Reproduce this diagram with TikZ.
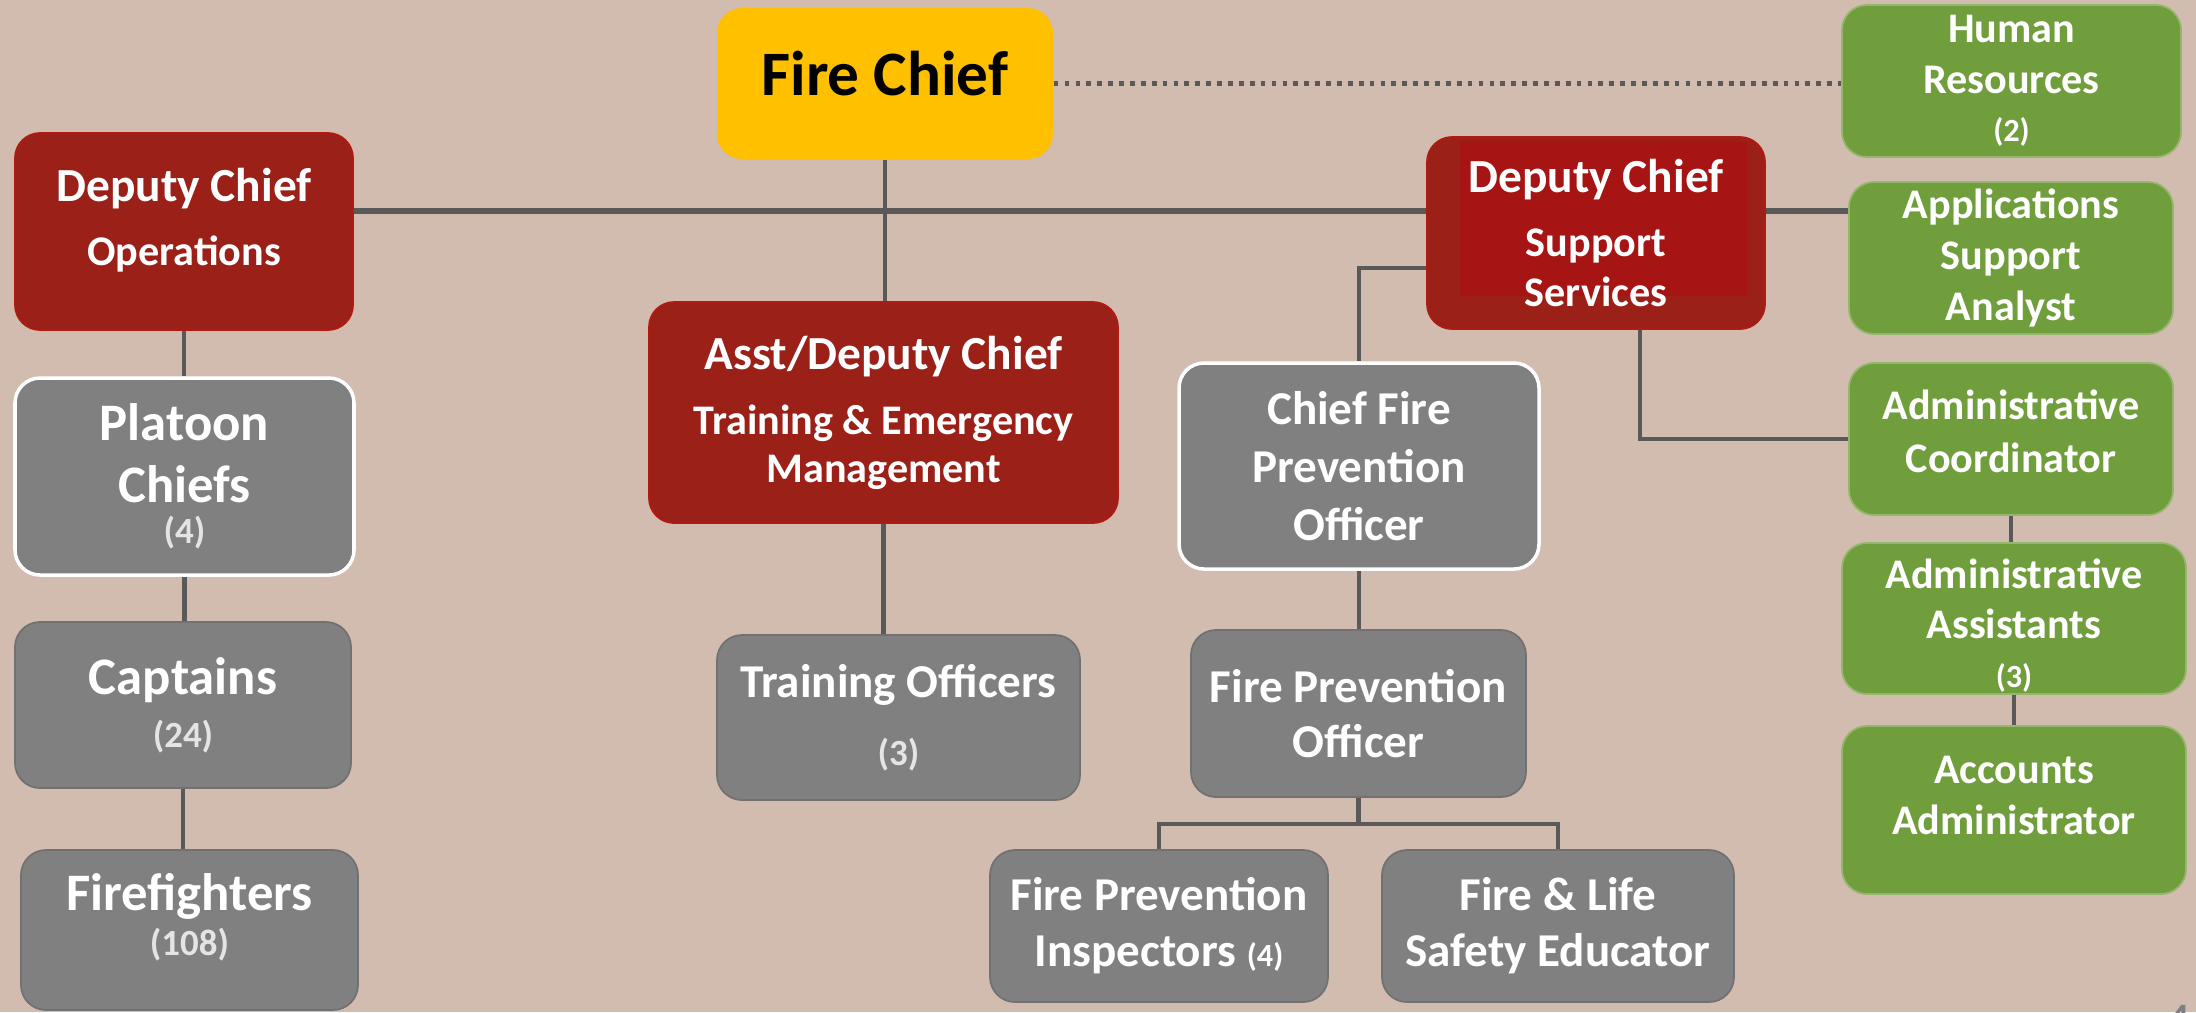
\documentclass[tikz,border=0pt]{standalone}
\usepackage{fontspec}
\setmainfont{Carlito}

\definecolor{bgtan}{RGB}{210,187,175}
\definecolor{chiefyellow}{RGB}{255,192,0}
\definecolor{deepred}{RGB}{155,32,24}
\definecolor{innerred}{RGB}{166,20,20}
\definecolor{boxgrey}{RGB}{128,128,128}
\definecolor{leafgreen}{RGB}{112,158,60}
\definecolor{linegrey}{RGB}{89,89,89}
\definecolor{numgrey}{RGB}{228,228,228}

% text sizes used inside the boxes
\newcommand{\hd}[1]{{\fontsize{13.5}{13.5}\selectfont #1}}
\newcommand{\cnt}[1]{{\fontsize{10.5}{10.5}\selectfont\color{numgrey}#1}}
\newcommand{\cntsm}[1]{{\fontsize{9.2}{9.2}\selectfont #1}}
% invisible struts to push a text up or down in its box
\newcommand{\lift}[1]{\rule[-#1]{0pt}{0pt}}
\newcommand{\drop}[1]{\rule{0pt}{#1}}

\tikzset{
  dims/.style 2 args={minimum width=#1cm, minimum height=#2cm},
  unit/.style={rounded corners=0.25cm, inner sep=0pt, align=center, text=white},
  chief/.style={unit, fill=chiefyellow, text=black, font=\fontsize{18}{22}\selectfont\bfseries},
  redunit/.style={unit, fill=deepred, draw=deepred!80!red, line width=0.5pt},
  greyunit/.style={unit, fill=boxgrey, draw=boxgrey!88!black, line width=0.5pt},
  greenunit/.style={unit, fill=leafgreen, draw=leafgreen!75!white, line width=0.5pt},
  ringed/.style={draw=white, line width=1pt},
  link/.style={draw=linegrey, line width=1.15pt},
  mainline/.style={draw=linegrey, line width=1.45pt},
  dotlink/.style={draw=linegrey, line width=1.35pt, dash pattern=on 1.35pt off 1.75pt}
}

\begin{document}
\begin{tikzpicture}
        % background
        \useasboundingbox (0,0) rectangle (21.96,-10.12);
        \fill[bgtan] (0,0) rectangle (21.96,-10.12);

        % the top
        \node[chief, dims={3.36}{1.51}] (fchief) at (8.85,-0.835) {Fire Chief\lift{5.7pt}};
        \node[greenunit, dims={3.39}{1.52}, font=\fontsize{12}{14.5}\selectfont\bfseries]
              (hr) at (20.115,-0.81) {Human\\Resources\\[-0.8pt]\cntsm{(2)}};

        % the deputy chiefs
        \node[redunit, dims={3.38}{1.97}, font=\fontsize{12}{18.2}\selectfont\bfseries]
              (dcops) at (1.84,-2.315) {\hd{Deputy Chief}\\Operations\lift{8.6pt}};
        \node[redunit, dims={3.38}{1.92}, font=\fontsize{12}{14.2}\selectfont\bfseries,
              path picture={\fill[innerred, sharp corners]
                ([xshift=0.33cm,yshift=-0.04cm]path picture bounding box.north west) rectangle
                ([xshift=-0.18cm,yshift=0.33cm]path picture bounding box.south east);}]
              (dcsup) at (15.96,-2.33) {\hd{Deputy Chief}\\[4pt]Support\\Services};
        \node[redunit, dims={4.69}{2.21}, font=\fontsize{12}{13.7}\selectfont\bfseries]
              (asst) at (8.835,-4.125) {\hd{Asst/Deputy Chief}\\[4.8pt]Training \& Emergency\\Management};

        % operations
        \node[greyunit, ringed, dims={3.39}{1.97}, font=\fontsize{15}{17.6}\selectfont\bfseries]
              (platoon) at (1.845,-4.765) {Platoon\\Chiefs\\[-5.9pt]\cnt{(4)}};
        \node[greyunit, dims={3.36}{1.66}, font=\fontsize{15}{15}\selectfont\bfseries]
              (capt) at (1.83,-7.05) {Captains\\\cnt{(24)}};
        \node[greyunit, dims={3.37}{1.60}, font=\fontsize{15}{13}\selectfont\bfseries]
              (ff) at (1.895,-9.30) {Firefighters\\\cnt{(108)}\lift{8.8pt}};

        % training
        \node[greyunit, dims={3.63}{1.65}, font=\fontsize{13.4}{19.4}\selectfont\bfseries]
              (train) at (8.985,-7.175) {Training Officers\\\cnt{(3)}};

        % fire prevention
        \node[greyunit, ringed, dims={3.60}{2.06}, font=\fontsize{13.4}{16.4}\selectfont\bfseries]
              (cfpo) at (13.59,-4.66) {Chief Fire\\Prevention\\Officer};
        \node[greyunit, dims={3.35}{1.67}, font=\fontsize{13.4}{15.6}\selectfont\bfseries]
              (fpo) at (13.585,-7.135) {Fire Prevention\\Officer};
        \node[greyunit, dims={3.38}{1.52}, font=\fontsize{13.4}{16}\selectfont\bfseries]
              (fpi) at (11.59,-9.26) {Fire Prevention\\Inspectors \cntsm{(4)}};
        \node[greyunit, dims={3.52}{1.52}, font=\fontsize{13.4}{16}\selectfont\bfseries]
              (fle) at (15.58,-9.26) {Fire \& Life\\Safety Educator};

        % support services
        \node[greenunit, dims={3.24}{1.52}, font=\fontsize{12}{14.6}\selectfont\bfseries]
              (apps) at (20.11,-2.58) {Applications\\Support\\Analyst};
        \node[greenunit, dims={3.24}{1.52}, font=\fontsize{12}{15}\selectfont\bfseries]
              (adco) at (20.11,-4.39) {Administrative\\Coordinator\lift{4.3pt}};
        \node[greenunit, dims={3.44}{1.51}, font=\fontsize{12}{14.2}\selectfont\bfseries]
              (adas) at (20.14,-6.185) {\drop{12.4pt}Administrative\\Assistants\\[-0.4pt]\cntsm{(3)}};
        \node[greenunit, dims={3.44}{1.68}, font=\fontsize{12}{14.5}\selectfont\bfseries]
              (acct) at (20.14,-8.10) {Accounts\\Administrator\lift{8.5pt}};

        % page number, cut by the lower edge
        \node[anchor=north, text=gray, font=\fontsize{16}{16}\selectfont] (pageno) at (21.78,-9.93) {4};

        % draw the connectors
        \coordinate (spine) at (0,-2.11);
        \draw[mainline] (dcops.east |- spine) -- (dcsup.west |- spine);
        \draw[mainline] (dcsup.east |- spine) -- (apps.west |- spine);
        \draw[dotlink] (fchief.east) -- (fchief.east -| hr.west);

        \foreach \a/\b in {fchief/asst, asst/train, dcops/platoon, platoon/capt,
                           capt/ff, cfpo/fpo, adco/adas, adas/acct}
                \draw[link] (\a.south) -- (\a.south |- \b.north);

        \draw[link] ([yshift=-0.35cm]dcsup.west) -| (cfpo.north);
        \draw[link] ([xshift=0.44cm]dcsup.south) |- (adco.west);

        % split below the fire prevention officer
        \draw[link] (fpo.south) -- ++(0,-0.26) coordinate (fork);
        \draw[link] (fpi.north) |- (fork) -| (fle.north);
\end{tikzpicture}
\end{document}
